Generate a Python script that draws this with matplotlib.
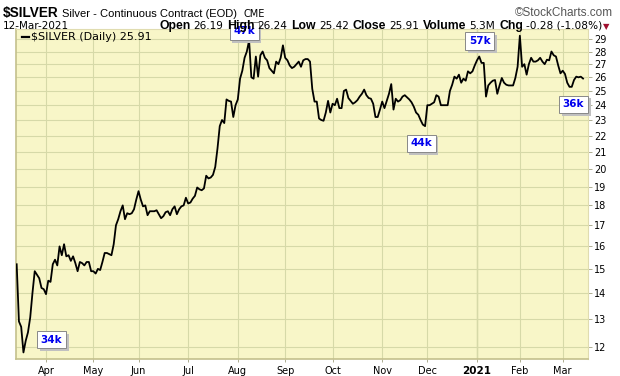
import matplotlib
matplotlib.use("Agg")
import matplotlib.pyplot as plt
import matplotlib.ticker as mticker
import matplotlib.patheffects as pe
import numpy as np
import pandas as pd

# daily closes, $SILVER continuous contract, 13-Mar-2020 .. 12-Mar-2021
close = [
    15.2, 12.9, 12.7, 11.8, 12.2, 12.5, 13.05, 14.0, 14.9, 14.75,
    14.6, 14.2, 14.15, 13.95, 14.5, 14.45, 15.2, 15.4, 15.15, 16.0,
    15.6, 16.1, 15.55, 15.6, 15.35, 15.55, 15.25, 14.9, 15.3, 15.25,
    15.15, 15.3, 15.3, 14.9, 14.9, 14.8, 15.0, 14.95, 15.3, 15.7,
    15.7, 15.65, 15.6, 16.1, 17.0, 17.3, 17.7, 18.0, 17.3, 17.6,
    17.55, 17.6, 17.8, 18.3, 18.75, 18.3, 17.95, 18.0, 17.5, 17.7,
    17.7, 17.7, 17.75, 17.55, 17.35, 17.45, 17.65, 17.7, 17.5, 17.8,
    17.95, 17.55, 17.8, 17.95, 18.0, 18.4, 18.1, 18.15, 18.35, 18.5,
    18.95, 18.85, 18.8, 18.9, 19.6, 19.45, 19.5, 19.65, 20.1, 21.2,
    22.6, 23.0, 22.8, 24.4, 24.3, 24.25, 23.2, 24.0, 24.4, 25.9,
    26.5, 27.5, 28.0, 28.9, 26.0, 25.9, 27.6, 26.05, 27.7, 28.0,
    27.5, 27.3, 26.7, 26.5, 26.3, 27.2, 27.0, 27.5, 28.5, 27.5,
    27.3, 26.9, 26.7, 26.8, 27.0, 27.2, 26.8, 27.3, 27.4, 27.4,
    27.2, 25.15, 24.25, 24.25, 23.1, 23.0, 22.95, 23.5, 24.3, 23.5,
    24.1, 24.0, 24.45, 23.8, 23.8, 25.0, 25.1, 24.5, 24.3, 24.1,
    24.2, 24.35, 24.6, 24.8, 25.1, 24.7, 24.5, 24.45, 24.1, 23.2,
    23.2, 23.7, 24.25, 23.8, 24.3, 24.8, 25.5, 23.7, 24.45, 24.25,
    24.35, 24.6, 24.7, 24.55, 24.4, 24.2, 23.9, 23.5, 23.35, 23.0,
    22.7, 22.6, 24.0, 24.0, 24.1, 24.2, 24.7, 24.6, 24.0, 24.0,
    24.0, 24.0, 25.0, 25.45, 26.05, 25.9, 26.2, 25.6, 25.9, 25.75,
    26.45, 26.3, 26.45, 26.9, 27.3, 27.6, 27.1, 27.1, 24.6, 25.4,
    25.6, 25.75, 25.8, 24.8, 25.4, 25.95, 25.6, 25.45, 25.4, 25.4,
    25.4, 25.95, 26.8, 29.3, 26.8, 27.0, 26.2, 27.0, 27.5, 27.2,
    27.2, 27.3, 27.5, 27.2, 27.0, 27.35, 27.3, 28.0, 27.7, 27.6,
    26.9, 26.3, 26.5, 26.25, 25.6, 25.3, 25.3, 25.8, 26.05, 26.0,
    26.05, 25.91,
]

holidays = ["2020-04-10", "2020-05-25", "2020-07-03", "2020-09-07", "2020-11-26",
            "2020-12-25", "2021-01-01", "2021-01-18", "2021-02-15"]
dates = pd.bdate_range("2020-03-13", periods=len(close), freq="C", holidays=holidays)

price_ticks = list(range(12, 30))

# volume call-outs: label, session, price
vol_labels = ["47k", "34k", "44k", "57k", "36k"]
vol_session = [100.8, 15.4, 179.2, 205.3, 246.8]
vol_price = [29.69, 12.24, 21.52, 28.85, 24.07]

W, H = 620, 376
fig = plt.figure(figsize=(W / 100, H / 100), dpi=100)
fig.patch.set_facecolor("white")
ax = fig.add_axes([16 / W, 17 / H, 572 / W, 330 / H])
ax.set_facecolor("#f8f6c8")

x = np.arange(len(close))
ax.plot(x, close, color="black", lw=1.3, zorder=3)

ax.set_yscale("log")
ax.set_ylim(11.58, 29.87)
ax.set_xlim(-0.3, 253.2)

ax.yaxis.tick_right()
ax.yaxis.set_major_locator(mticker.FixedLocator(price_ticks))
ax.yaxis.set_major_formatter(mticker.FixedFormatter([str(t) for t in price_ticks]))
ax.yaxis.set_minor_locator(mticker.NullLocator())
ax.tick_params(axis="y", which="major", length=3, width=0.6, color="#a0a080",
               labelsize=7, pad=1.5, labelcolor="black")

# month ticks at first session of each month
month_pos = [i for i in range(1, len(dates)) if dates[i].month != dates[i - 1].month]
month_lab = ["2021" if dates[i].month == 1 else dates[i].strftime("%b") for i in month_pos]
ax.set_xticks(month_pos)
ax.set_xticklabels(month_lab)
ax.tick_params(axis="x", length=2, width=0.6, color="#a0a080", labelsize=7, pad=3)
for lab in ax.get_xticklabels():
    if lab.get_text() == "2021":
        lab.set_fontweight("bold")
        lab.set_fontsize(7.5)

ax.grid(True, which="major", color="#d6d9a8", lw=0.8, zorder=0)
for i, m in zip(month_pos, month_lab):
    if m == "2021":
        ax.axvline(i, color="#c0c490", lw=0.9, zorder=0)
for s in ["left", "bottom"]:
    ax.spines[s].set_color("#c4c08c")
    ax.spines[s].set_linewidth(1.2)
for s in ["top", "right"]:
    ax.spines[s].set_color("#e0dcb0")
    ax.spines[s].set_linewidth(0.8)

# legend entry
ax.plot([0.01, 0.022], [0.977, 0.977], transform=ax.transAxes, color="black", lw=1.6,
        zorder=4)
ax.text(0.027, 0.977, "$SILVER (Daily) 25.91", transform=ax.transAxes, fontsize=8,
        va="center", ha="left", zorder=4)

# volume call-out boxes with drop shadow
for lab, s, p in zip(vol_labels, vol_session, vol_price):
    t = ax.annotate(lab, (s, p), ha="center", va="center", fontsize=7.5, fontweight="bold",
                    color="#0000ee", zorder=6, annotation_clip=False,
                    bbox=dict(boxstyle="square,pad=0.35", fc="white", ec="#888888", lw=0.7))
    t.get_bbox_patch().set_path_effects([
        pe.SimplePatchShadow(offset=(2, -2), shadow_rgbFace="#c0c0c0", alpha=1.0),
        pe.Normal()])

# header
fig.canvas.draw()
renderer = fig.canvas.get_renderer()


def run_text(x0, y0, parts):
    # lay text pieces left to right, each followed by a gap in pixels
    xp = x0
    for txt, gap, kw in parts:
        t = fig.text(xp / W, 1 - y0 / H, txt, va="baseline", ha="left", **kw)
        bb = t.get_window_extent(renderer=renderer)
        xp += bb.width + gap


run_text(3, 17, [("$SILVER", 3, dict(fontsize=9.8, fontweight="bold", family="Liberation Sans")),
                 ("Silver - Continuous Contract (EOD)", 7, dict(fontsize=8, family="Liberation Sans")),
                 ("CME", 0, dict(fontsize=7, family="DejaVu Sans"))])
fig.text(613 / W, 1 - 16 / H, "\u00a9StockCharts.com", ha="right", va="baseline",
         fontsize=8.5, color="#555555", family="Liberation Sans")
fig.text(3 / W, 1 - 29 / H, "12-Mar-2021", ha="left", va="baseline", fontsize=7.5,
         family="DejaVu Sans")
bold = dict(fontsize=8.8, fontweight="bold", family="Liberation Sans")
reg = dict(fontsize=7.6, family="DejaVu Sans")
run_text(159, 29, [("Open", 3, bold), ("26.19", 4, reg), ("High", 3, bold), ("26.24", 4, reg),
                   ("Low", 3, bold), ("25.42", 4, reg), ("Close", 3, bold), ("25.91", 4, reg),
                   ("Volume", 3, bold), ("5.3M", 4, reg), ("Chg", 3, bold),
                   ("-0.28 (-1.08%)", 1, reg),
                   ("\u25bc", 0, dict(fontsize=6, color="#a01030", family="DejaVu Sans"))])

fig.savefig("out.png", dpi=100)
